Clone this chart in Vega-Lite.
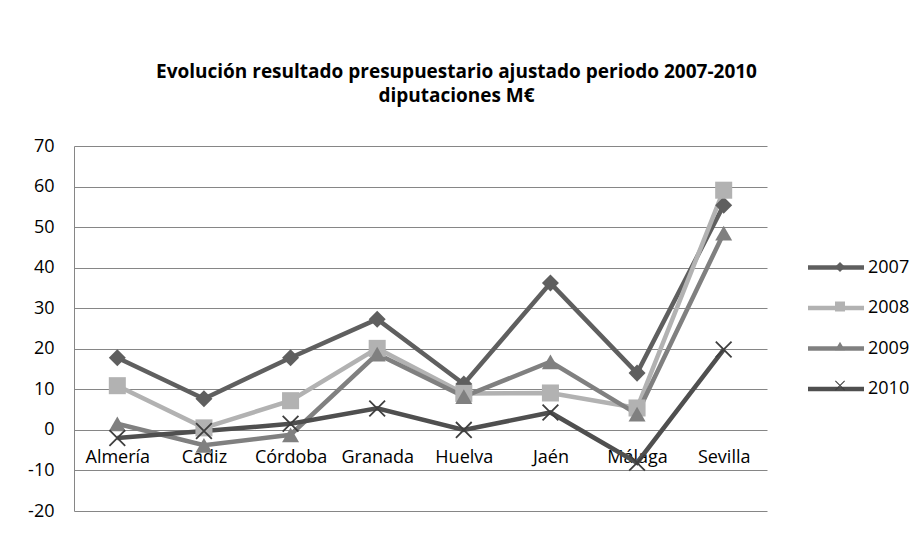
{
  "$schema": "https://vega.github.io/schema/vega-lite/v6.json",
  "width": 693,
  "height": 365,
  "autosize": {"type": "none"},
  "padding": {"left": 74, "top": 146, "right": 154, "bottom": 22},
  "background": "white",
  "title": {
    "text": ["Evolución resultado presupuestario ajustado periodo 2007-2010", "diputaciones M€"],
    "font": "Open Sans",
    "fontSize": 19,
    "fontWeight": "bold",
    "color": "#000000",
    "lineHeight": 24,
    "anchor": "middle",
    "dx": 36,
    "offset": 31
  },
  "data": {
    "values": [
      {"provincia": "Almería", "year": "2007", "value": 17.8},
      {"provincia": "Cádiz", "year": "2007", "value": 7.7},
      {"provincia": "Córdoba", "year": "2007", "value": 17.8},
      {"provincia": "Granada", "year": "2007", "value": 27.3},
      {"provincia": "Huelva", "year": "2007", "value": 11.3},
      {"provincia": "Jaén", "year": "2007", "value": 36.2},
      {"provincia": "Málaga", "year": "2007", "value": 14.0},
      {"provincia": "Sevilla", "year": "2007", "value": 55.4},
      {"provincia": "Almería", "year": "2008", "value": 10.9},
      {"provincia": "Cádiz", "year": "2008", "value": 0.5},
      {"provincia": "Córdoba", "year": "2008", "value": 7.2},
      {"provincia": "Granada", "year": "2008", "value": 20.1},
      {"provincia": "Huelva", "year": "2008", "value": 9.0},
      {"provincia": "Jaén", "year": "2008", "value": 9.1},
      {"provincia": "Málaga", "year": "2008", "value": 5.4},
      {"provincia": "Sevilla", "year": "2008", "value": 59.1},
      {"provincia": "Almería", "year": "2009", "value": 1.5},
      {"provincia": "Cádiz", "year": "2009", "value": -3.8},
      {"provincia": "Córdoba", "year": "2009", "value": -1.2},
      {"provincia": "Granada", "year": "2009", "value": 18.7},
      {"provincia": "Huelva", "year": "2009", "value": 8.2},
      {"provincia": "Jaén", "year": "2009", "value": 16.8},
      {"provincia": "Málaga", "year": "2009", "value": 3.9},
      {"provincia": "Sevilla", "year": "2009", "value": 48.5},
      {"provincia": "Almería", "year": "2010", "value": -2.0},
      {"provincia": "Cádiz", "year": "2010", "value": -0.3},
      {"provincia": "Córdoba", "year": "2010", "value": 1.5},
      {"provincia": "Granada", "year": "2010", "value": 5.3},
      {"provincia": "Huelva", "year": "2010", "value": 0.0},
      {"provincia": "Jaén", "year": "2010", "value": 4.3},
      {"provincia": "Málaga", "year": "2010", "value": -8.1},
      {"provincia": "Sevilla", "year": "2010", "value": 19.8}
    ]
  },
  "config": {
    "view": {"stroke": null},
    "font": "Open Sans",
    "axis": {
      "labelFont": "Open Sans",
      "labelFontSize": 18,
      "labelColor": "#000000",
      "ticks": false,
      "title": null
    },
    "legend": {
      "labelFont": "Open Sans",
      "labelFontSize": 18,
      "labelColor": "#000000"
    }
  },
  "encoding": {
    "x": {
      "field": "provincia",
      "type": "nominal",
      "sort": ["Almería", "Cádiz", "Córdoba", "Granada", "Huelva", "Jaén", "Málaga", "Sevilla"],
      "scale": {"type": "point", "padding": 0.5},
      "axis": {
        "orient": "bottom",
        "offset": -80,
        "domain": false,
        "grid": false,
        "labelAngle": 0,
        "labelPadding": 17,
        "title": null
      }
    },
    "y": {
      "field": "value",
      "type": "quantitative",
      "scale": {"domain": [-20, 70], "nice": false, "zero": false},
      "axis": {
        "values": [-20, -10, 0, 10, 20, 30, 40, 50, 60, 70],
        "labelExpr": "toString(datum.value)",
        "domain": true,
        "domainColor": "#868686",
        "domainWidth": 1,
        "grid": true,
        "gridColor": "#868686",
        "gridWidth": 1,
        "gridOpacity": 1,
        "labelPadding": 20,
        "title": null
      }
    }
  },
  "layer": [
    {
      "mark": {"type": "line", "strokeWidth": 4.5},
      "encoding": {
        "stroke": {
          "field": "year",
          "type": "nominal",
          "scale": {
            "domain": ["2007", "2008", "2009", "2010"],
            "range": ["#5f5f5f", "#b2b2b2", "#808080", "#4f4f4f"]
          },
          "legend": {
            "orient": "none",
            "legendX": 752.5,
            "legendY": 112,
            "title": null,
            "symbolType": "M-4,0L4,0",
            "symbolSize": 196,
            "symbolStrokeWidth": 4.5,
            "labelOffset": 22.5,
            "rowPadding": 21.5
          }
        }
      }
    },
    {
      "mark": {"type": "point", "filled": true, "opacity": 1, "size": 290},
      "encoding": {
        "color": {
          "field": "year",
          "type": "nominal",
          "scale": {"range": ["#5f5f5f", "#b2b2b2", "#808080", "#3f3f3f"]},
          "legend": {
            "orient": "none",
            "legendX": 757,
            "legendY": 112,
            "title": null,
            "symbolSize": 100,
            "symbolOpacity": 1,
            "labelExpr": "''",
            "rowPadding": 21.5
          }
        },
        "shape": {
          "field": "year",
          "type": "nominal",
          "scale": {"range": ["diamond", "square", "triangle-up", "M-1,-0.85L-0.85,-1L1,0.85L0.85,1ZM0.85,-1L1,-0.85L-0.85,1L-1,0.85Z"]},
          "legend": {
            "orient": "none",
            "legendX": 757,
            "legendY": 112,
            "title": null,
            "symbolSize": 100,
            "symbolOpacity": 1,
            "labelExpr": "''",
            "rowPadding": 21.5
          }
        }
      }
    }
  ]
}
